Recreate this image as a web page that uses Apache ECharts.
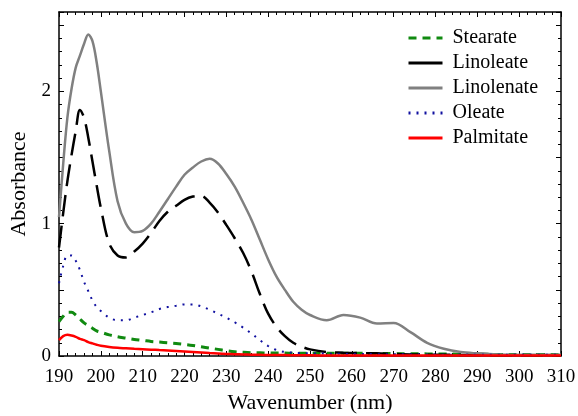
<!DOCTYPE html>
<html>
<head>
<meta charset="utf-8">
<script src="https://cdn.jsdelivr.net/npm/echarts@6/dist/echarts.min.js"></script>
<style>
  html, body { margin: 0; padding: 0; background: #fff; }
  #chart { width: 578px; height: 416px; }
</style>
</head>
<body>
<div id="chart"></div>
<script>
// wavelength grid (nm)
var wavelength = [190, 191, 192, 193, 194, 195, 196, 197, 198, 199, 200, 202, 204, 206, 208, 210,
  212, 214, 216, 218, 220, 222, 224, 226, 228, 230, 232, 234, 236, 238, 240, 242, 244, 246, 248,
  250, 254, 258, 262, 266, 270, 274, 278, 282, 286, 290, 295, 300, 305, 310]

var stearate = [0.26, 0.30, 0.33, 0.33, 0.31, 0.28, 0.25, 0.23, 0.21, 0.19, 0.18, 0.16, 0.145, 0.135,
  0.125, 0.118, 0.11, 0.105, 0.10, 0.095, 0.088, 0.08, 0.07, 0.06, 0.05, 0.04, 0.032, 0.028, 0.025,
  0.024, 0.023, 0.022, 0.022, 0.021, 0.021, 0.02, 0.02, 0.02, 0.02, 0.019, 0.018, 0.017, 0.016,
  0.015, 0.014, 0.013, 0.012, 0.011, 0.011, 0.01]

var linoleate = [0.82, 1.08, 1.32, 1.52, 1.7, 1.86, 1.8, 1.65, 1.47, 1.29, 1.12, 0.85, 0.76, 0.745,
  0.79, 0.85, 0.93, 1.02, 1.09, 1.135, 1.18, 1.205, 1.21, 1.16, 1.085, 0.99, 0.89, 0.78, 0.64, 0.47,
  0.32, 0.22, 0.15, 0.1, 0.07, 0.05, 0.03, 0.025, 0.022, 0.02, 0.015, 0.012, 0.01, 0.01, 0.008,
  0.007, 0.006, 0.005, 0.005, 0.005]

var linolenate = [1.05, 1.45, 1.8, 2.02, 2.18, 2.27, 2.36, 2.43, 2.38, 2.22, 2.0, 1.55, 1.17, 1.0,
  0.935, 0.945, 1.0, 1.09, 1.185, 1.28, 1.37, 1.425, 1.47, 1.49, 1.455, 1.375, 1.28, 1.16, 1.03,
  0.88, 0.73, 0.6, 0.5, 0.41, 0.35, 0.31, 0.27, 0.31, 0.29, 0.245, 0.25, 0.18, 0.1, 0.055, 0.03,
  0.02, 0.012, 0.01, 0.01, 0.01]

var oleate = [0.55, 0.68, 0.76, 0.76, 0.72, 0.65, 0.56, 0.49, 0.42, 0.37, 0.34, 0.29, 0.27, 0.27,
  0.29, 0.31, 0.33, 0.355, 0.37, 0.38, 0.39, 0.39, 0.375, 0.35, 0.32, 0.29, 0.255, 0.215, 0.17,
  0.12, 0.075, 0.045, 0.03, 0.025, 0.022, 0.02, 0.018, 0.016, 0.015, 0.014, 0.013, 0.012, 0.011,
  0.01, 0.01, 0.01, 0.01, 0.01, 0.01, 0.01]

var palmitate = [0.12, 0.15, 0.16, 0.155, 0.145, 0.13, 0.12, 0.105, 0.095, 0.085, 0.077, 0.068,
  0.062, 0.058, 0.054, 0.051, 0.048, 0.045, 0.042, 0.038, 0.034, 0.03, 0.026, 0.022, 0.019, 0.016,
  0.014, 0.012, 0.01, 0.009, 0.008, 0.007, 0.007, 0.006, 0.006, 0.005, 0.004, 0.004, 0.004, 0.004,
  0.003, 0.003, 0.003, 0.003, 0.003, 0.003, 0.003, 0.003, 0.003, 0.003]

var fontFamily = '"Liberation Serif", "DejaVu Serif", serif'

function pairs(ys) {
  return wavelength.map(function (x, i) { return [x, ys[i]] })
}

function frameAxis(pos, showLabel) {
  return {
    position: pos,
    axisLine: { show: true, onZero: false, lineStyle: { color: '#000', width: 1.5 } },
    axisTick: { show: true, inside: true, length: 5, lineStyle: { color: '#000' } },
    minorTick: { show: true, splitNumber: 5, length: 3, lineStyle: { color: '#000' } },
    splitLine: { show: false },
    axisLabel: { show: showLabel, color: '#000', fontFamily: fontFamily, fontSize: 19 }
  }
}

var chart = echarts.init(document.getElementById('chart'))

var xBottom = frameAxis('bottom', true)
Object.assign(xBottom, {
  type: 'value', min: 190, max: 310, interval: 10,
  name: 'Wavenumber (nm)', nameLocation: 'middle', nameGap: 36,
  nameTextStyle: { color: '#000', fontFamily: fontFamily, fontSize: 22 }
})
xBottom.axisLabel.margin = 12
var xTop = frameAxis('top', false)
Object.assign(xTop, { type: 'value', min: 190, max: 310, interval: 10 })

var yLeft = frameAxis('left', true)
Object.assign(yLeft, {
  type: 'value', min: 0, max: 2.6, interval: 0.5,
  name: 'Absorbance', nameLocation: 'middle', nameGap: 25, nameRotate: 90,
  nameTextStyle: { color: '#000', fontFamily: fontFamily, fontSize: 22 }
})
yLeft.axisLabel.margin = 8
yLeft.axisLabel.formatter = function (v) { return v % 1 === 0 ? String(v) : '' }
var yRight = frameAxis('right', false)
Object.assign(yRight, { type: 'value', min: 0, max: 2.6, interval: 0.5 })

function line(name, ys, color, width, type) {
  return {
    name: name, type: 'line', data: pairs(ys),
    smooth: 0.35, showSymbol: false, symbol: 'none',
    lineStyle: { color: color, width: width, type: type },
    itemStyle: { color: color }
  }
}

var option = {
  backgroundColor: '#fff',
  animation: false,
  grid: { left: 59, right: 17, top: 12, bottom: 60, outerBoundsMode: 'none' },
  legend: {
    orient: 'vertical', left: 402, top: 23,
    itemWidth: 34, itemHeight: 14, itemGap: 5,
    itemStyle: { opacity: 0 },
    lineStyle: { width: 3 },
    textStyle: { color: '#000', fontFamily: fontFamily, fontSize: 20, padding: [0, 0, 0, 5] },
    data: [
      { name: 'Stearate' },
      { name: 'Linoleate', lineStyle: { type: 'solid' } },
      { name: 'Linolenate' },
      { name: 'Oleate' },
      { name: 'Palmitate' }
    ]
  },
  xAxis: [xBottom, xTop],
  yAxis: [yLeft, yRight],
  series: [
    line('Stearate', stearate, '#108a10', 3, [8, 6]),
    line('Linoleate', linoleate, '#000', 2.5, [22, 9]),
    line('Linolenate', linolenate, '#808080', 2.5, 'solid'),
    line('Oleate', oleate, '#1010a0', 2, [2, 6]),
    line('Palmitate', palmitate, '#ff0000', 2.5, 'solid')
  ]
}

chart.setOption(option)
</script>
</body>
</html>
